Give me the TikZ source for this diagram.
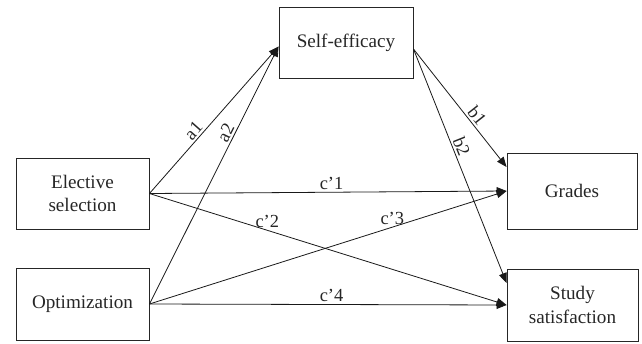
\documentclass[tikz,border=0pt]{standalone}
\usepackage{fontspec}
\setmainfont{Liberation Serif}
\usetikzlibrary{arrows.meta}
\begin{document}
\begin{tikzpicture}[x=1bp,y=-1bp,
  box/.style={draw=black!85, line width=0.9bp, align=center, inner sep=0pt,
    text=black!85, font=\fontsize{19.2}{23.3}\selectfont},
  link/.style={line width=0.8bp, draw=black!90, -{Triangle[length=10bp,width=8bp]}},
  lab/.style={font=\fontsize{18.5}{22}\selectfont, text=black!85, inner sep=2bp}]
\useasboundingbox (0,0) rectangle (642,343);
\node[box, minimum width=134bp, minimum height=71bp] (self) at (346,42.5) {Self-efficacy};
\node[box, minimum width=133bp, minimum height=71bp] (elect) at (82.5,193.5) {Elective\\selection};
\node[box, minimum width=133bp, minimum height=72bp] (optim) at (82.5,304) {Optimization};
\node[box, minimum width=130bp, minimum height=76bp] (grades) at (572,191) {Grades};
\node[box, minimum width=131bp, minimum height=72bp] (study) at (572.5,305) {Study\\satisfaction};
\draw[link] (elect.east) -- node[lab, sloped, above, pos=0.39] {a1} ([yshift=-4bp]self.west);
\draw[link] (optim.east) -- node[lab, sloped, above, pos=0.65] {a2} ([yshift=-4bp]self.west);
\draw[link] ([yshift=-6.5bp]self.east) -- node[lab, sloped, above, pos=0.61] {b1} ([yshift=24bp]grades.west);
\draw[link] ([yshift=-6.5bp]self.east) -- node[lab, sloped, above, pos=0.43] {b2} ([yshift=22bp]study.west);
\draw[link] (elect.east) -- node[lab, above, pos=0.51] {c’1} (grades.west);
\draw[link] (elect.east) -- node[lab, above, pos=0.33] {c’2} (study.west);
\draw[link] (optim.east) -- node[lab, above, pos=0.68] {c’3} (grades.west);
\draw[link] (optim.east) -- node[lab, above, pos=0.51] {c’4} (study.west);
\end{tikzpicture}
\end{document}
